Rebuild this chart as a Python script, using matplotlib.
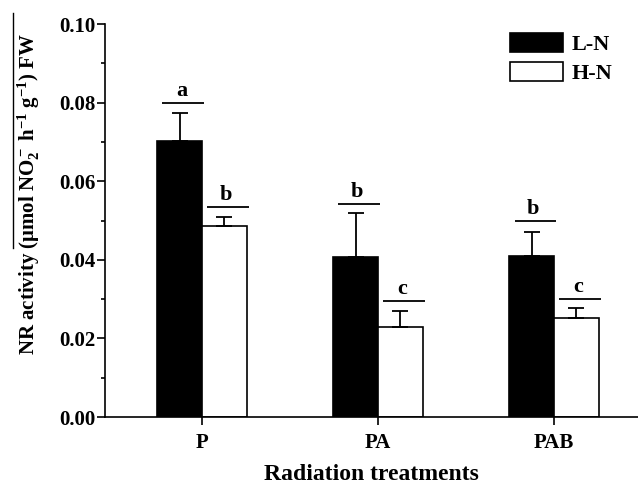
import matplotlib
matplotlib.use("Agg")
import matplotlib.pyplot as plt
import numpy as np
from matplotlib.lines import Line2D

plt.rcParams['font.family'] = ['Liberation Serif', 'DejaVu Serif']
plt.rcParams['font.weight'] = 'bold'
plt.rcParams['mathtext.fontset'] = 'custom'
plt.rcParams['mathtext.rm'] = 'Liberation Serif:bold'
plt.rcParams['mathtext.it'] = 'Liberation Serif:bold'
plt.rcParams['mathtext.bf'] = 'Liberation Serif:bold'

# datos
tratamientos = ['P', 'PA', 'PAB']
ln_media = [0.0702, 0.0406, 0.0410]
ln_error = [0.0072, 0.0114, 0.0061]
hn_media = [0.0487, 0.0228, 0.0251]
hn_error = [0.0022, 0.0042, 0.0026]
ln_letras = ['a', 'b', 'b']
hn_letras = ['b', 'c', 'c']
ln_linea = [0.0800, 0.0541, 0.0499]
hn_linea = [0.0535, 0.0296, 0.0300]

x = np.arange(len(tratamientos))
w = 0.255

fig = plt.figure(figsize=(6.38, 4.84), dpi=100)
ax = fig.add_axes([0.1646, 0.1384, 0.8354, 0.812])

ax.bar(x - w / 2, ln_media, w, color='black', edgecolor='black', linewidth=1.2, label='L-N')
ax.bar(x + w / 2, hn_media, w, color='white', edgecolor='black', linewidth=1.2, label='H-N')

ax.errorbar(x - w / 2, ln_media, yerr=[np.zeros(3), ln_error], fmt='none',
            ecolor='black', elinewidth=1.3, capsize=5.8, capthick=1.3)
ax.errorbar(x + w / 2, hn_media, yerr=[np.zeros(3), hn_error], fmt='none',
            ecolor='black', elinewidth=1.3, capsize=5.8, capthick=1.3)

# lineas y letras de significancia
for xi, yl, letra in zip(x - w / 2, ln_linea, ln_letras):
    ax.hlines(yl, xi - w * 0.42 + 0.01, xi + w * 0.5 + 0.01, color='black', linewidth=1.3)
    ax.text(xi + 0.01, yl + 0.0005, letra, ha='center', va='bottom', fontsize=16, fontweight='bold')
for xi, yl, letra in zip(x + w / 2, hn_linea, hn_letras):
    ax.hlines(yl, xi - w * 0.42 + 0.01, xi + w * 0.5 + 0.01, color='black', linewidth=1.3)
    ax.text(xi + 0.01, yl + 0.0005, letra, ha='center', va='bottom', fontsize=16, fontweight='bold')

ax.set_xlim(-0.551, 2.477)
ax.set_ylim(0, 0.10)
ax.set_yticks(np.arange(0, 0.101, 0.02))
ax.set_yticks(np.arange(0.01, 0.1, 0.02), minor=True)
ax.set_yticklabels(['%.2f' % v for v in np.arange(0, 0.101, 0.02)], fontsize=15, fontweight='bold')
ax.set_xticks(x)
ax.set_xticklabels(tratamientos, fontsize=15, fontweight='bold')
ax.tick_params(axis='both', which='major', direction='out', length=5.5, width=1.2)
ax.tick_params(axis='y', which='major', pad=1.5)
ax.tick_params(axis='y', which='minor', direction='out', length=3, width=1.2)
ax.tick_params(axis='x', which='major', pad=6)

for lado in ['top', 'right']:
    ax.spines[lado].set_visible(False)
for lado in ['left', 'bottom']:
    ax.spines[lado].set_linewidth(1.2)

ax.set_xlabel('Radiation treatments', fontsize=17, fontweight='bold', labelpad=8)
fig.text(0.045, 0.599, r'NR activity ($\mu$mol NO$_2^-$ h$^{-1}$ g$^{-1}$) FW',
         rotation=90, ha='center', va='center', fontsize=15, fontweight='bold')
fig.add_artist(Line2D([0.020, 0.020], [1 - 248 / 484, 1 - 13 / 484],
                      transform=fig.transFigure, color='black', linewidth=1))

leg = fig.legend(loc='upper left', bbox_to_anchor=(510 / 638, 1 - 33 / 484), frameon=False,
                 fontsize=16, handlelength=2.4, handleheight=0.95, handletextpad=0.35,
                 labelspacing=0.3, borderpad=0, borderaxespad=0)

fig.savefig('out.png', dpi=100)
